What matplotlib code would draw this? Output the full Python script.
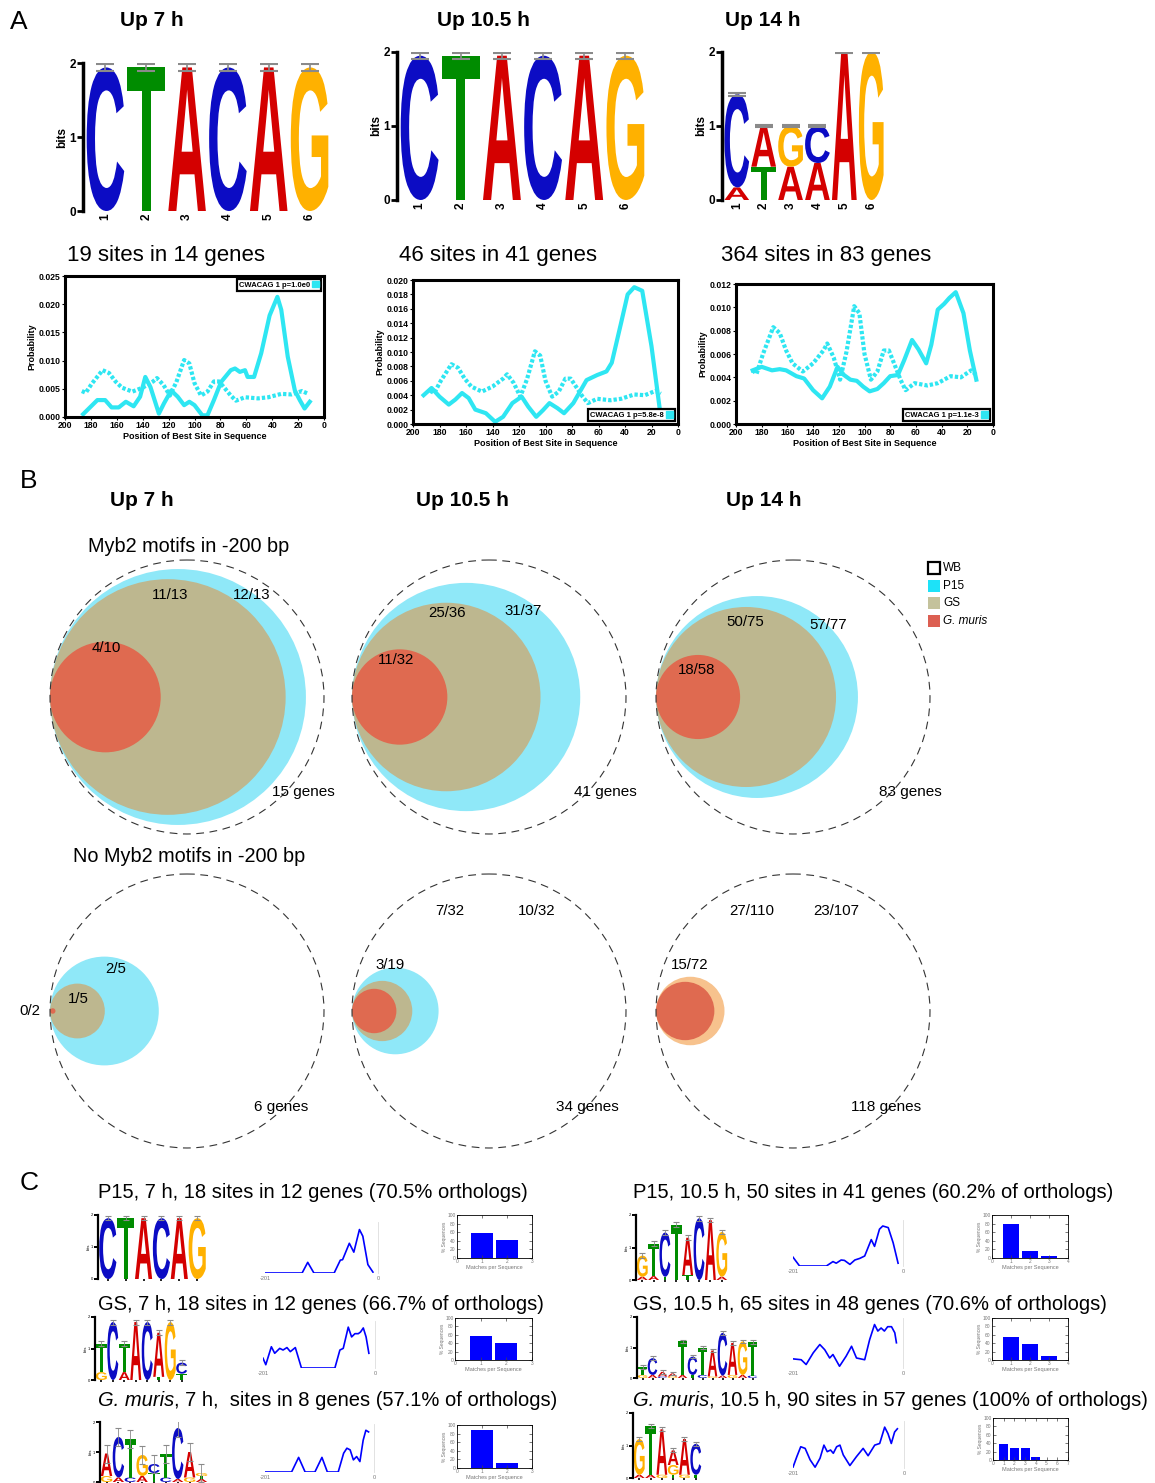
import matplotlib
matplotlib.use('Agg')
import matplotlib.pyplot as plt
from matplotlib.patches import Circle, PathPatch, Rectangle, Patch
from matplotlib.textpath import TextPath
from matplotlib.font_manager import FontProperties
from matplotlib.transforms import Affine2D

plt.rcParams['font.family'] = 'Liberation Sans'

W, H = 1155, 1483

# ---------------- panel A: motif logos (bits per letter, bottom to top) ----------------
logo_up7 = [[('C', 1.94)], [('T', 1.94)], [('A', 1.94)], [('C', 1.94)], [('A', 1.94)], [('G', 1.94)]]
logo_up7_err = [0.05] * 6
logo_up10 = [[('C', 1.95)], [('T', 1.95)], [('A', 1.95)], [('C', 1.95)], [('A', 1.95)], [('G', 1.95)]]
logo_up10_err = [0.04] * 6
logo_up14 = [[('A', 0.17), ('C', 1.26)], [('T', 0.45), ('A', 0.55)], [('A', 0.45), ('G', 0.55)],
             [('A', 0.5), ('C', 0.5)], [('A', 2.0)], [('G', 2.0)]]
logo_up14_err = [0.02] * 6
site_counts = ['19 sites in 14 genes', '46 sites in 41 genes', '364 sites in 83 genes']
motif_pvals = ['CWACAG 1 p=1.0e0', 'CWACAG 1 p=5.8e-8', 'CWACAG 1 p=1.1e-3']

# background site distribution (dotted) and best-site distributions (solid)
bg_pos = [187, 184, 179, 171, 166, 161, 156, 148, 140, 132, 129, 124, 119, 114, 108, 104, 100,
          95, 90, 85, 81, 77, 72, 68, 61, 56, 51, 43, 33, 25, 17, 13]
bg_prob = [0.0046, 0.0043, 0.006, 0.0083, 0.0078, 0.0063, 0.0052, 0.0045, 0.0052, 0.0063, 0.0069,
           0.0057, 0.0038, 0.0062, 0.0101, 0.0095, 0.006, 0.0038, 0.0045, 0.0063, 0.0063, 0.0052,
           0.0038, 0.0029, 0.0035, 0.0034, 0.0033, 0.0035, 0.0041, 0.0040, 0.0046, 0.0042]
up7_pos = [186, 175, 169, 164, 158.5, 153, 147, 142, 138, 134, 127.5, 123.6, 118, 113, 108, 104, 100,
           94, 90, 85, 79.5, 72, 68.7, 65, 61, 59, 54, 48.5, 42, 36, 33, 28, 22.5, 18.7, 15, 11]
up7_prob = [0.0005, 0.003, 0.003, 0.0017, 0.0017, 0.0027, 0.0019, 0.0036, 0.0071, 0.0053, 0.0006,
            0.0024, 0.0047, 0.0036, 0.0021, 0.0027, 0.0021, 0.0003, 0.0003, 0.003, 0.0062, 0.0083,
            0.0086, 0.008, 0.0083, 0.0071, 0.0071, 0.0113, 0.018, 0.0213, 0.019, 0.0107, 0.0047,
            0.003, 0.0015, 0.0027]
up10_pos = [192, 186, 180, 173, 168, 163, 158, 153, 145, 138, 132, 125, 118, 113, 107, 102, 97, 91,
            86, 79, 69, 61, 54, 50, 43, 38, 33, 27, 20, 14]
up10_prob = [0.004, 0.005, 0.0038, 0.0027, 0.0034, 0.0043, 0.0036, 0.002, 0.0015, 0.0003, 0.001,
             0.0029, 0.0038, 0.0024, 0.001, 0.0019, 0.0029, 0.0022, 0.0015, 0.0029, 0.0061, 0.0068,
             0.0073, 0.0085, 0.014, 0.018, 0.019, 0.0185, 0.0108, 0.0024]
up14_pos = [187, 180, 172, 166, 161, 153, 147, 140, 133, 127, 121, 116, 111, 106, 101, 96, 90, 85,
            80, 74, 69, 63, 58, 52, 48, 43, 38, 34, 29, 23, 18, 13]
up14_prob = [0.0046, 0.0049, 0.0046, 0.0047, 0.0046, 0.0041, 0.0039, 0.0029, 0.0022, 0.0032, 0.0049,
             0.0042, 0.0038, 0.0037, 0.0032, 0.0028, 0.003, 0.0035, 0.0041, 0.0042, 0.0055, 0.0072,
             0.0064, 0.0052, 0.0068, 0.0098, 0.0103, 0.0108, 0.0113, 0.0095, 0.0063, 0.0038]

# ---------------- panel B: circle sizes relative to the WB gene set ----------------
# order: WB, P15, GS, G. muris
with_myb2 = [[1.0, 0.934, 0.86, 0.404], [1.0, 0.833, 0.688, 0.348], [1.0, 0.737, 0.657, 0.307]]
no_myb2 = [[1.0, 0.397, 0.2, 0.02], [1.0, 0.316, 0.22, 0.162], [1.0, 0.25, 0.0, 0.213]]
gene_totals = ['15 genes', '41 genes', '83 genes', '6 genes', '34 genes', '118 genes']

# ---------------- panel C ----------------
# (italic species prefix, rest of the title)
c_titles = [('', 'P15, 7 h, 18 sites in 12 genes (70.5% orthologs)'),
            ('', 'P15, 10.5 h, 50 sites in 41 genes (60.2% of orthologs)'),
            ('', 'GS, 7 h, 18 sites in 12 genes (66.7% of orthologs)'),
            ('', 'GS, 10.5 h, 65 sites in 48 genes (70.6% of orthologs)'),
            ('G. muris', ', 7 h,  sites in 8 genes (57.1% of orthologs)'),
            ('G. muris', ', 10.5 h, 90 sites in 57 genes (100% of orthologs)')]
c_logos = [
    [[('C', 1.9)], [('T', 1.9)], [('A', 1.9)], [('C', 1.9)], [('A', 1.9)], [('G', 1.9)]],
    [[('A', 0.1), ('G', 0.65)], [('A', 0.12), ('T', 1.0)], [('T', 0.1), ('C', 1.36)], [('T', 1.7)],
     [('T', 0.15), ('A', 1.15)], [('C', 1.9)], [('A', 1.84)], [('A', 0.1), ('G', 1.38)]],
    [[('G', 0.25), ('T', 0.9)], [('C', 1.84)], [('A', 0.25), ('T', 0.9)], [('A', 1.84)], [('C', 1.84)],
     [('T', 0.1), ('A', 1.4)], [('G', 1.84)], [('T', 0.2), ('C', 0.35)]],
    [[('G', 0.1), ('T', 0.25)], [('A', 0.1), ('C', 0.55)], [('C', 0.05), ('A', 0.15)],
     [('G', 0.05), ('A', 0.1)], [('A', 0.1), ('T', 1.1)], [('T', 0.1), ('C', 0.6)],
     [('C', 0.1), ('T', 0.9)], [('G', 0.05), ('A', 0.85)], [('A', 0.08), ('C', 1.4)],
     [('G', 0.1), ('A', 1.05)], [('A', 0.1), ('G', 1.1)], [('C', 0.08), ('T', 1.1)]],
    [[('G', 0.2), ('A', 0.75)], [('A', 0.15), ('C', 1.35)], [('C', 0.15), ('T', 1.3)],
     [('A', 0.2), ('G', 0.7)], [('T', 0.3), ('C', 0.3)], [('C', 0.15), ('T', 0.8)],
     [('A', 0.1), ('C', 1.7)], [('G', 0.15), ('A', 0.85)], [('A', 0.1), ('T', 0.1), ('G', 0.1)]],
    [[('A', 0.1), ('G', 1.1)], [('A', 0.1), ('T', 1.5)], [('G', 0.1), ('A', 1.4)],
     [('T', 0.1), ('G', 0.3), ('A', 0.45)], [('G', 0.1), ('A', 1.1)], [('T', 0.1), ('C', 0.95)]],
]
c_logo_err = [0.06, 0.07, 0.08, 0.06, 0.3, 0.06]

# site position profiles (relative density along -201..0)
c_site_pos = [
    [-201, -135, -125, -114, -78, -67, -63, -51, -43, -33, -27, -18, -9],
    [-201, -189, -140, -128, -122, -113, -107, -97, -88, -79, -70, -58, -52, -43, -37, -27, -18, -9],
    [-201, -196, -186, -180, -171, -165, -158, -152, -143, -132, -72, -63, -57, -48, -42, -36, -30,
     -26, -21, -16, -11],
    [-201, -186, -177, -164, -152, -143, -134, -128, -116, -104, -94, -85, -70, -61, -52, -46, -40,
     -34, -28, -21, -15, -12],
    [-201, -152, -139, -127, -109, -96, -86, -66, -56, -50, -44, -38, -32, -26, -20, -15, -10],
    [-201, -194, -187, -179, -170, -161, -152, -145, -139, -133, -128, -122, -116, -110, -98, -86,
     -74, -65, -53, -44, -35, -29, -23, -17, -12],
]
c_site_density = [
    [0, 0, 0.24, 0, 0, 0.29, 0.30, 0.67, 0.47, 0.98, 0.83, 0.19, 0.02],
    [0.22, 0, 0, 0.11, 0.07, 0.15, 0.14, 0.04, 0.15, 0.19, 0.25, 0.66, 0.49, 0.92, 1.0, 0.96, 0.58, 0.07],
    [0.24, 0.08, 0.52, 0.36, 0.48, 0.44, 0.5, 0.4, 0.5, 0, 0, 0.44, 0.48, 1.0, 0.76, 0.84, 0.84, 0.88,
     0.98, 0.76, 0.36],
    [0.21, 0.19, 0.08, 0.35, 0.54, 0.42, 0.23, 0.31, 0.04, 0.27, 0.5, 0.23, 0.19, 0.65, 1.0, 0.85,
     0.92, 0.85, 0.95, 0.95, 0.81, 0.58],
    [0, 0, 0.35, 0, 0, 0.35, 0, 0, 0.45, 0.57, 0.53, 0.29, 0.37, 0.25, 0.76, 1.0, 0.96],
    [0.02, 0.28, 0.52, 0.48, 0.2, 0.02, 0.24, 0.56, 0.4, 0.44, 0.36, 0.52, 0.56, 0.32, 0.06, 0.28,
     0.48, 0.3, 0.56, 0.6, 1.0, 0.84, 0.6, 0.88, 0.96],
]
# % of sequences with 1, 2, 3 ... matches
c_matches = [[59, 41], [78, 16, 5], [58, 41], [54, 38, 10], [88, 12], [37, 28, 28, 6, 1, 1]]
c_match_max = [3, 4, 3, 4, 3, 7]

BASE_COLORS = {'A': '#d40000', 'C': '#0c0cc4', 'G': '#ffb100', 'T': '#008c00'}
CYAN_LINE = '#2ee6f2'
P15_C, GS_C, GM_C, PEACH = '#8fe8f8', '#bdb78f', '#df6a50', '#f7c28d'
LOGO_FONT = FontProperties(family='Liberation Sans', weight='bold')

fig = plt.figure(figsize=(W / 100, H / 100), dpi=100)
canvas = fig.add_axes([0, 0, 1, 1])
canvas.set_xlim(0, W)
canvas.set_ylim(H, 0)
canvas.axis('off')
renderer = fig.canvas.get_renderer()


def px_axes(left, top, right, bottom):
    ax = fig.add_axes([left / W, 1 - bottom / H, (right - left) / W, (bottom - top) / H])
    ax.patch.set_alpha(0)
    return ax


def draw_letter(ax, letter, x, y0, height, width):
    tp = TextPath((0, 0), letter, size=1, prop=LOGO_FONT)
    bb = tp.get_extents()
    tr = (Affine2D().translate(-bb.x0, -bb.y0)
          .scale(width / bb.width, height / bb.height)
          .translate(x - width / 2, y0))
    ax.add_patch(PathPatch(tr.transform_path(tp), fc=BASE_COLORS[letter], ec='none'))


def mixed_text(x, y, italic, rest, size):
    # italic species name followed by upright text
    if italic:
        t = canvas.text(x, y, italic, fontsize=size, style='italic', va='center')
        bb = t.get_window_extent(renderer)
        x = bb.x1
    canvas.text(x, y, rest, fontsize=size, va='center')


def logo(box, stacks, err, big=True):
    ax = px_axes(*box)
    n = len(stacks)
    tops = []
    for i, stack in enumerate(stacks):
        y = 0
        for letter, h in stack:
            draw_letter(ax, letter, i + 1, y, h, 0.92 if big else 0.96)
            y += h
        tops.append(y)
    errs = err if isinstance(err, list) else [err] * n
    ax.errorbar(range(1, n + 1), tops, yerr=errs, fmt='none', ecolor='#8a8a8a',
                elinewidth=1.2 if big else 0.6, capsize=6.5 if big else 2.5,
                capthick=1.5 if big else 0.8, zorder=3)
    ax.set_xlim(0.45, n + 0.55)
    ax.set_ylim(0, 2)
    for s in ['top', 'right', 'bottom']:
        ax.spines[s].set_visible(False)
    ax.spines['left'].set_linewidth(2.5 if big else 1.6)
    ax.set_yticks([0, 1, 2])
    if big:
        ax.tick_params(axis='y', length=4, width=2, labelsize=8.5, pad=1)
        for t in ax.get_yticklabels():
            t.set_fontweight('bold')
        ax.set_ylabel('bits', fontsize=8.5, fontweight='bold', labelpad=1)
        ax.set_xticks(range(1, n + 1))
        ax.set_xticklabels([str(i) for i in range(1, n + 1)], rotation=90, fontsize=8.5,
                           fontweight='bold')
        ax.tick_params(axis='x', length=0, pad=2)
    else:
        ax.tick_params(axis='y', length=3, width=1.4, labelsize=3, pad=0.5)
        ax.set_ylabel('bits', fontsize=3, labelpad=0)
        ax.set_xticks(range(1, n + 1))
        ax.set_xticklabels([''] * n)
        ax.tick_params(axis='x', length=1.5, width=1.2)
    return ax


# ---------- panel A ----------
canvas.text(10, 22, 'A', fontsize=19, va='center')
for x, t in [(152, 'Up 7 h'), (483, 'Up 10.5 h'), (763, 'Up 14 h')]:
    canvas.text(x, 21, t, fontsize=15, fontweight='bold', ha='center', va='center')

logo((83, 63, 332, 211), logo_up7, logo_up7_err)
logo((397, 52, 648, 200), logo_up10, logo_up10_err)
logo((722, 52, 886, 200), logo_up14, logo_up14_err)

for x, t in zip([67, 399, 721], site_counts):
    canvas.text(x, 255, t, fontsize=16, va='center')

prob_boxes = [(65, 276, 324, 417), (413, 280, 678, 424), (736, 284, 993, 424)]
prob_ymax = [0.025, 0.020, 0.012]
prob_step = [0.005, 0.002, 0.002]
prob_curves = [(up7_pos, up7_prob), (up10_pos, up10_prob), (up14_pos, up14_prob)]
leg_loc = ['upper right', 'lower right', 'lower right']
for box, ymax, step, (px, py), lab, loc in zip(prob_boxes, prob_ymax, prob_step, prob_curves,
                                               motif_pvals, leg_loc):
    ax = px_axes(*box)
    ax.plot(bg_pos, bg_prob, color=CYAN_LINE, lw=3, ls=(0, (0.8, 0.5)))
    ax.plot(px, py, color=CYAN_LINE, lw=3, solid_joinstyle='round')
    ax.set_xlim(200, 0)
    ax.set_ylim(0, ymax)
    nt = int(round(ymax / step))
    ax.set_yticks([step * i for i in range(nt + 1)])
    ax.set_yticklabels(['%.3f' % (step * i) for i in range(nt + 1)])
    ax.set_xticks(range(0, 201, 20))
    ax.tick_params(labelsize=6.2, length=2, width=0.8, pad=1)
    for t in ax.get_xticklabels() + ax.get_yticklabels():
        t.set_fontweight('bold')
    for s in ax.spines.values():
        s.set_linewidth(2.2)
    ax.set_xlabel('Position of Best Site in Sequence', fontsize=6.5, fontweight='bold', labelpad=1)
    ax.set_ylabel('Probability', fontsize=6.5, fontweight='bold', labelpad=2)
    leg = ax.legend(handles=[Patch(color=CYAN_LINE)], labels=[lab], loc=loc, fontsize=5.5,
                    markerfirst=False, handlelength=0.9, handleheight=0.9, handletextpad=0.3,
                    borderpad=0.25, fancybox=False, framealpha=1, edgecolor='black',
                    borderaxespad=0.4)
    leg.get_frame().set_linewidth(1.6)
    for t in leg.get_texts():
        t.set_fontweight('bold')

# ---------- panel B ----------
canvas.text(20, 481, 'B', fontsize=19, va='center')
for x, t in [(142, 'Up 7 h'), (462, 'Up 10.5 h'), (764, 'Up 14 h')]:
    canvas.text(x, 500, t, fontsize=15, fontweight='bold', ha='center', va='center')
canvas.text(88, 546, 'Myb2 motifs in -200 bp', fontsize=14.3, va='center')
canvas.text(73, 856, 'No Myb2 motifs in -200 bp', fontsize=14.3, va='center')

R = 137
lefts = [50, 352, 656]
row_y = [697, 1011]
faces = [[P15_C, GS_C, GM_C]] * 5 + [[PEACH, GS_C, GM_C]]
groups = with_myb2 + no_myb2
for k, sizes in enumerate(groups):
    x0 = lefts[k % 3]
    cy = row_y[k // 3]
    for s, fc in zip(sizes[1:], faces[k]):
        if s > 0:
            canvas.add_patch(Circle((x0 + R * s, cy), R * s, fc=fc, ec='none', zorder=2))
    canvas.add_patch(Circle((x0 + R * sizes[0], cy), R * sizes[0], fill=False, ec='#333333',
                            lw=0.8, ls=(0, (7, 5)), zorder=3))

venn_text = [(170, 595, '11/13'), (252, 595, '12/13'), (106, 648, '4/10'),
             (447, 613, '25/36'), (523, 611, '31/37'), (396, 660, '11/32'),
             (745, 622, '50/75'), (828, 625, '57/77'), (697, 670, '18/58'),
             (116, 969, '2/5'), (78, 999, '1/5'), (30, 1011, '0/2'),
             (450, 911, '7/32'), (537, 911, '10/32'), (390, 965, '3/19'),
             (752, 911, '27/110'), (836, 911, '23/107'), (690, 965, '15/72')]
for x, y, t in venn_text:
    canvas.text(x, y, t, fontsize=10.8, ha='center', va='center', zorder=5)
for (x, y), t in zip([(303, 792), (605, 792), (910, 792), (281, 1107), (587, 1107), (886, 1107)],
                     gene_totals):
    canvas.text(x, y, t, fontsize=11, ha='center', va='center', zorder=5)

# legend
leg_items = [('', 'WB', 'white'), ('', 'P15', '#1de2f8'), ('', 'GS', '#c4c29c'),
             ('G. muris', '', '#dc5f52')]
for i, (it, lab, fc) in enumerate(leg_items):
    y = 568 + i * 17.7
    canvas.add_patch(Rectangle((928, y - 6), 12, 12, fc=fc, ec='black' if i == 0 else 'none',
                               lw=1.6, zorder=5))
    mixed_text(943, y, it, lab, 8.5)

# ---------- panel C ----------
canvas.text(20, 1183, 'C', fontsize=19, va='center')
title_xy = [(98, 1192), (633, 1192), (98, 1305), (633, 1305), (98, 1400), (633, 1400)]
for (x, y), (it, rest) in zip(title_xy, c_titles):
    mixed_text(x, y, it, rest, 14.5)

logo_boxes = [(98, 1215, 207, 1279), (636, 1215, 728, 1280), (95, 1317, 188, 1380),
              (637, 1317, 758, 1378), (100, 1422, 208, 1482), (633, 1413, 702, 1478)]
line_boxes = [(265, 1222, 378, 1273), (793, 1220, 903, 1266), (263, 1321, 375, 1368),
              (793, 1318, 903, 1368), (265, 1424, 374, 1472), (793, 1421, 904, 1468)]
bar_boxes = [(457, 1215, 532, 1258), (992, 1215, 1068, 1258), (455, 1318, 532, 1360),
             (992, 1318, 1068, 1360), (457, 1425, 532, 1468), (993, 1418, 1068, 1460)]

for i in range(6):
    logo(logo_boxes[i], c_logos[i], c_logo_err[i], big=False)

    ax = px_axes(*line_boxes[i])
    ax.plot(c_site_pos[i], c_site_density[i], color='#0000ff', lw=1.2)
    ax.set_xlim(-201, 0)
    ax.set_ylim(0, 1.15)
    for s in ['top', 'left', 'bottom']:
        ax.spines[s].set_visible(False)
    ax.spines['right'].set_color('#dddddd')
    ax.spines['right'].set_linewidth(0.6)
    ax.set_yticks([])
    ax.set_xticks([-201, 0])
    ax.set_xticklabels(['-201', '0'])
    ax.tick_params(axis='x', length=0, labelsize=4, labelcolor='#777777', pad=2)

    ax = px_axes(*bar_boxes[i])
    m = c_matches[i]
    ax.bar(range(1, len(m) + 1), m, width=0.85, color='#0000ff')
    ax.set_xlim(0, c_match_max[i])
    ax.set_ylim(0, 100)
    ax.set_yticks(range(0, 101, 20))
    ax.set_xticks(range(0, c_match_max[i] + 1))
    ax.tick_params(labelsize=3.5, length=2, width=0.5, pad=1,
                   direction='in', top=True, right=True, colors='#444444')
    for t in ax.get_xticklabels() + ax.get_yticklabels():
        t.set_color('#777777')
    for s in ax.spines.values():
        s.set_linewidth(0.6)
    ax.set_xlabel('Matches per Sequence', fontsize=4, color='#777777', labelpad=0.5)
    ax.set_ylabel('% Sequences', fontsize=3.5, color='#777777', labelpad=0.5)

fig.savefig('out.png', dpi=100)
